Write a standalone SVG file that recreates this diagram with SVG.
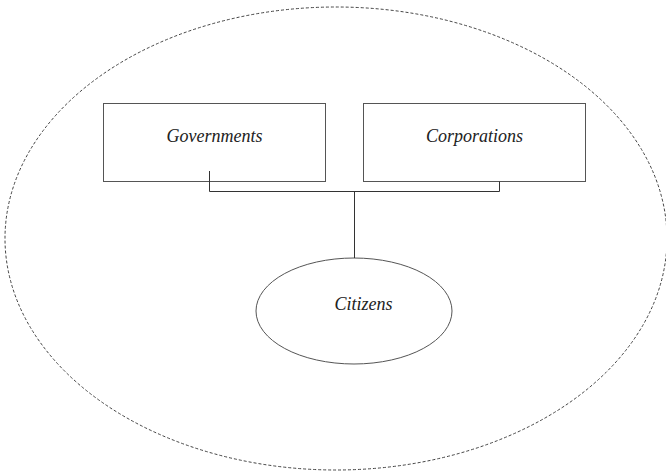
<svg xmlns="http://www.w3.org/2000/svg" width="666" height="474" viewBox="0 0 666 474">
  <style>
    .box { fill: #ffffff; stroke: #555555; stroke-width: 1; }
    .boundary { fill: none; stroke: #444444; stroke-width: 1; stroke-dasharray: 3 2; }
    .link { fill: none; stroke: #333333; stroke-width: 1; }
    .label { font-family: "Liberation Serif", "Times New Roman", serif; font-style: italic; font-size: 18px; fill: #222222; text-anchor: middle; }
  </style>
  <rect width="666" height="474" fill="#ffffff"/>

  <!-- dashed outer boundary -->
  <g id="boundary">
    <ellipse class="boundary" cx="336" cy="238.5" rx="331" ry="231.5"/>
  </g>

  <g id="governments">
    <rect class="box" x="103.5" y="103.5" width="222" height="78"/>
    <text class="label" x="214.5" y="142">Governments</text>
  </g>

  <g id="corporations">
    <rect class="box" x="363.5" y="103.5" width="222" height="78"/>
    <text class="label" x="474.5" y="142">Corporations</text>
  </g>

  <g id="citizens">
    <ellipse class="box" cx="354" cy="311" rx="98" ry="53"/>
    <text class="label" x="363.5" y="310">Citizens</text>
  </g>

  <!-- bracket joining both boxes to the citizens node -->
  <g id="connectors">
    <path class="link" d="M209.5,171 V191.5 H499.5 V181.5"/>
    <path class="link" d="M354.5,191.5 V258"/>
  </g>
</svg>
